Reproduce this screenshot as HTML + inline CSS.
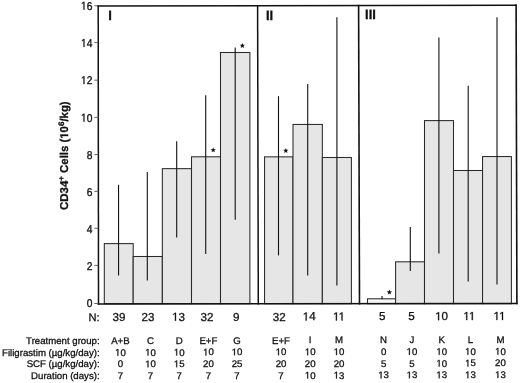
<!DOCTYPE html>
<html><head><meta charset="utf-8"><style>
html,body{margin:0;padding:0;background:#fff;}
body{width:520px;height:383px;overflow:hidden;position:relative;}
svg{position:absolute;left:0;top:0;will-change:transform;}
text{font-family:"Liberation Sans",sans-serif;fill:#111;stroke:#111;stroke-width:0.3px;text-rendering:geometricPrecision;}
.o{fill-opacity:0;stroke-opacity:0;}
.g1{fill:#111;stroke:#111;stroke-width:0.3px;}
</style></head><body>
<svg width="520" height="383" viewBox="0 0 520 383">

<rect x="104.30" y="243.60" width="28.90" height="60.10" fill="#e6e6e6" stroke="#2a2a2a" stroke-width="1.05"/>
<rect x="133.20" y="256.50" width="29.15" height="47.20" fill="#e6e6e6" stroke="#2a2a2a" stroke-width="1.05"/>
<rect x="162.35" y="168.65" width="29.15" height="135.05" fill="#e6e6e6" stroke="#2a2a2a" stroke-width="1.05"/>
<rect x="191.50" y="156.80" width="29.00" height="146.90" fill="#e6e6e6" stroke="#2a2a2a" stroke-width="1.05"/>
<rect x="220.50" y="52.50" width="29.40" height="251.20" fill="#e6e6e6" stroke="#2a2a2a" stroke-width="1.05"/>
<rect x="264.55" y="156.85" width="28.45" height="146.85" fill="#e6e6e6" stroke="#2a2a2a" stroke-width="1.05"/>
<rect x="293.00" y="124.45" width="29.35" height="179.25" fill="#e6e6e6" stroke="#2a2a2a" stroke-width="1.05"/>
<rect x="322.35" y="157.50" width="29.05" height="146.20" fill="#e6e6e6" stroke="#2a2a2a" stroke-width="1.05"/>
<rect x="367.50" y="298.80" width="28.10" height="4.90" fill="#f6f6f6" stroke="#2a2a2a" stroke-width="1.05"/>
<rect x="395.60" y="261.80" width="28.90" height="41.90" fill="#e6e6e6" stroke="#2a2a2a" stroke-width="1.05"/>
<rect x="424.50" y="120.60" width="29.00" height="183.10" fill="#e6e6e6" stroke="#2a2a2a" stroke-width="1.05"/>
<rect x="453.50" y="170.50" width="29.05" height="133.20" fill="#e6e6e6" stroke="#2a2a2a" stroke-width="1.05"/>
<rect x="482.55" y="156.55" width="28.85" height="147.15" fill="#e6e6e6" stroke="#2a2a2a" stroke-width="1.05"/>
<line x1="118.55" y1="184.70" x2="118.55" y2="275.50" stroke="#111" stroke-width="1.1"/>
<line x1="147.30" y1="172.10" x2="147.30" y2="280.50" stroke="#111" stroke-width="1.1"/>
<line x1="176.70" y1="141.30" x2="176.70" y2="237.60" stroke="#111" stroke-width="1.1"/>
<line x1="205.70" y1="95.20" x2="205.70" y2="254.00" stroke="#111" stroke-width="1.1"/>
<line x1="235.20" y1="47.50" x2="235.20" y2="219.70" stroke="#111" stroke-width="1.1"/>
<line x1="278.50" y1="96.20" x2="278.50" y2="255.40" stroke="#111" stroke-width="1.1"/>
<line x1="307.70" y1="83.90" x2="307.70" y2="275.50" stroke="#111" stroke-width="1.1"/>
<line x1="336.90" y1="17.20" x2="336.90" y2="285.60" stroke="#111" stroke-width="1.1"/>
<line x1="382.00" y1="296.00" x2="382.00" y2="299.30" stroke="#111" stroke-width="1.1"/>
<line x1="410.30" y1="226.90" x2="410.30" y2="271.00" stroke="#111" stroke-width="1.1"/>
<line x1="438.90" y1="37.60" x2="438.90" y2="253.50" stroke="#111" stroke-width="1.1"/>
<line x1="468.20" y1="85.80" x2="468.20" y2="281.40" stroke="#111" stroke-width="1.1"/>
<line x1="497.00" y1="17.30" x2="497.00" y2="284.40" stroke="#111" stroke-width="1.1"/>
<line x1="98.2" y1="5.25" x2="98.5" y2="304.75" stroke="#111" stroke-width="1.5"/>
<line x1="257.6" y1="4.98" x2="258.3" y2="304.52" stroke="#111" stroke-width="1.5"/>
<line x1="358.6" y1="4.81" x2="359.5" y2="304.38" stroke="#111" stroke-width="1.6"/>
<line x1="516.1" y1="4.55" x2="516.9" y2="304.15" stroke="#111" stroke-width="1.6"/>
<line x1="97.45" y1="6.0" x2="516.9" y2="5.3" stroke="#111" stroke-width="1.5"/>
<line x1="97.7" y1="304.0" x2="517.7" y2="303.4" stroke="#111" stroke-width="1.5"/>
<line x1="94.3" y1="5.85" x2="98.3" y2="5.85" stroke="#555" stroke-width="0.9"/>
<text transform="translate(92.40,9.65) scale(1,1.1)" font-size="10.3" text-anchor="end"><tspan class="o">1</tspan>6</text>
<line x1="94.3" y1="42.60" x2="98.3" y2="42.60" stroke="#555" stroke-width="0.9"/>
<text transform="translate(92.40,46.90) scale(1,1.1)" font-size="10.3" text-anchor="end"><tspan class="o">1</tspan>4</text>
<line x1="94.3" y1="80.20" x2="98.3" y2="80.20" stroke="#555" stroke-width="0.9"/>
<text transform="translate(92.40,84.10) scale(1,1.1)" font-size="10.3" text-anchor="end"><tspan class="o">1</tspan>2</text>
<line x1="94.3" y1="117.35" x2="98.3" y2="117.35" stroke="#555" stroke-width="0.9"/>
<text transform="translate(92.40,121.65) scale(1,1.1)" font-size="10.3" text-anchor="end"><tspan class="o">1</tspan>0</text>
<line x1="94.3" y1="154.56" x2="98.3" y2="154.56" stroke="#555" stroke-width="0.9"/>
<text transform="translate(92.40,158.86) scale(1,1.1)" font-size="10.3" text-anchor="end">8</text>
<line x1="94.3" y1="191.40" x2="98.3" y2="191.40" stroke="#555" stroke-width="0.9"/>
<text transform="translate(92.40,195.70) scale(1,1.1)" font-size="10.3" text-anchor="end">6</text>
<line x1="94.3" y1="228.25" x2="98.3" y2="228.25" stroke="#555" stroke-width="0.9"/>
<text transform="translate(92.40,232.55) scale(1,1.1)" font-size="10.3" text-anchor="end">4</text>
<line x1="94.3" y1="265.40" x2="98.3" y2="265.40" stroke="#555" stroke-width="0.9"/>
<text transform="translate(92.40,269.70) scale(1,1.1)" font-size="10.3" text-anchor="end">2</text>
<line x1="94.3" y1="303.50" x2="98.3" y2="303.50" stroke="#555" stroke-width="0.9"/>
<text transform="translate(92.40,307.00) scale(1,1.1)" font-size="10.3" text-anchor="end">0</text>
<polygon points="213.20,147.30 213.91,149.13 215.86,149.23 214.34,150.47 214.85,152.37 213.20,151.30 211.55,152.37 212.06,150.47 210.54,149.23 212.49,149.13" fill="#111"/>
<polygon points="242.35,42.90 243.06,44.73 245.01,44.83 243.49,46.07 244.00,47.97 242.35,46.90 240.70,47.97 241.21,46.07 239.69,44.83 241.64,44.73" fill="#111"/>
<polygon points="285.80,147.90 286.51,149.73 288.46,149.83 286.94,151.07 287.45,152.97 285.80,151.90 284.15,152.97 284.66,151.07 283.14,149.83 285.09,149.73" fill="#111"/>
<polygon points="389.40,289.50 390.11,291.33 392.06,291.43 390.54,292.67 391.05,294.57 389.40,293.50 387.75,294.57 388.26,292.67 386.74,291.43 388.69,291.33" fill="#111"/>
<text transform="translate(108.25,19.80) scale(1,1.04)" font-size="13" font-weight="bold">I</text>
<text transform="translate(265.90,19.80) scale(1,1.04)" font-size="13" font-weight="bold">II</text>
<text transform="translate(365.10,19.10) scale(1,1.04)" font-size="13" font-weight="bold">III</text>
<text transform="translate(68.1,155.6) rotate(-90)" font-size="11.4" font-weight="bold" text-anchor="middle">CD34<tspan dy="-4" font-size="8">+</tspan><tspan dy="4"> Cells (<tspan class="o">1</tspan>0</tspan><tspan dy="-4" font-size="8">6</tspan><tspan dy="4">/kg)</tspan></text>
<text x="99.70" y="321.00" font-size="11.1" text-anchor="end">N:</text>
<text x="118.90" y="320.98" font-size="11.6" text-anchor="middle">39</text>
<text x="148.00" y="320.90" font-size="11.6" text-anchor="middle">23</text>
<text x="178.50" y="320.82" font-size="11.6" text-anchor="middle"><tspan class="o">1</tspan>3</text>
<text x="206.90" y="320.75" font-size="11.6" text-anchor="middle">32</text>
<text x="236.20" y="320.68" font-size="11.6" text-anchor="middle">9</text>
<text x="279.20" y="320.57" font-size="11.6" text-anchor="middle">32</text>
<text x="309.20" y="320.49" font-size="11.6" text-anchor="middle"><tspan class="o">1</tspan>4</text>
<text x="339.00" y="320.41" font-size="11.6" text-anchor="middle"><tspan class="o">1</tspan><tspan class="o">1</tspan></text>
<text x="382.30" y="320.30" font-size="11.6" text-anchor="middle">5</text>
<text x="411.40" y="320.23" font-size="11.6" text-anchor="middle">5</text>
<text x="441.60" y="320.15" font-size="11.6" text-anchor="middle"><tspan class="o">1</tspan>0</text>
<text x="469.30" y="320.08" font-size="11.6" text-anchor="middle"><tspan class="o">1</tspan><tspan class="o">1</tspan></text>
<text x="499.50" y="320.00" font-size="11.6" text-anchor="middle"><tspan class="o">1</tspan><tspan class="o">1</tspan></text>
<text x="99.60" y="344.00" font-size="9.65" text-anchor="end">Treatment group:</text>
<text x="120.40" y="343.97" font-size="9.65" text-anchor="middle">A+B</text>
<text x="150.50" y="343.90" font-size="9.65" text-anchor="middle">C</text>
<text x="179.20" y="343.82" font-size="9.65" text-anchor="middle">D</text>
<text x="208.40" y="343.75" font-size="9.65" text-anchor="middle">E+F</text>
<text x="237.00" y="343.67" font-size="9.65" text-anchor="middle">G</text>
<text x="281.00" y="343.56" font-size="9.65" text-anchor="middle">E+F</text>
<text x="310.20" y="343.49" font-size="9.65" text-anchor="middle">I</text>
<text x="339.00" y="343.41" font-size="9.65" text-anchor="middle">M</text>
<text x="383.60" y="343.30" font-size="9.65" text-anchor="middle">N</text>
<text x="411.90" y="343.23" font-size="9.65" text-anchor="middle">J</text>
<text x="441.70" y="343.15" font-size="9.65" text-anchor="middle">K</text>
<text x="470.40" y="343.08" font-size="9.65" text-anchor="middle">L</text>
<text x="500.40" y="343.00" font-size="9.65" text-anchor="middle">M</text>
<text x="99.60" y="355.70" font-size="9.65" text-anchor="end">Filigrastim (µg/kg/day):</text>
<text x="120.40" y="355.67" font-size="9.65" text-anchor="middle"><tspan class="o">1</tspan>0</text>
<text x="150.50" y="355.60" font-size="9.65" text-anchor="middle"><tspan class="o">1</tspan>0</text>
<text x="179.20" y="355.52" font-size="9.65" text-anchor="middle"><tspan class="o">1</tspan>0</text>
<text x="208.40" y="355.45" font-size="9.65" text-anchor="middle"><tspan class="o">1</tspan>0</text>
<text x="237.00" y="355.37" font-size="9.65" text-anchor="middle"><tspan class="o">1</tspan>0</text>
<text x="281.00" y="355.26" font-size="9.65" text-anchor="middle"><tspan class="o">1</tspan>0</text>
<text x="310.20" y="355.19" font-size="9.65" text-anchor="middle"><tspan class="o">1</tspan>0</text>
<text x="339.00" y="355.11" font-size="9.65" text-anchor="middle"><tspan class="o">1</tspan>0</text>
<text x="383.60" y="355.00" font-size="9.65" text-anchor="middle">0</text>
<text x="411.90" y="354.93" font-size="9.65" text-anchor="middle"><tspan class="o">1</tspan>0</text>
<text x="441.70" y="354.85" font-size="9.65" text-anchor="middle"><tspan class="o">1</tspan>0</text>
<text x="470.40" y="354.78" font-size="9.65" text-anchor="middle"><tspan class="o">1</tspan>0</text>
<text x="500.40" y="354.70" font-size="9.65" text-anchor="middle"><tspan class="o">1</tspan>0</text>
<text x="99.60" y="367.40" font-size="9.65" text-anchor="end">SCF (µg/kg/day):</text>
<text x="120.40" y="367.37" font-size="9.65" text-anchor="middle">0</text>
<text x="150.50" y="367.30" font-size="9.65" text-anchor="middle"><tspan class="o">1</tspan>0</text>
<text x="179.20" y="367.22" font-size="9.65" text-anchor="middle"><tspan class="o">1</tspan>5</text>
<text x="208.40" y="367.15" font-size="9.65" text-anchor="middle">20</text>
<text x="237.00" y="367.07" font-size="9.65" text-anchor="middle">25</text>
<text x="281.00" y="366.96" font-size="9.65" text-anchor="middle">20</text>
<text x="310.20" y="366.89" font-size="9.65" text-anchor="middle">20</text>
<text x="339.00" y="366.81" font-size="9.65" text-anchor="middle">20</text>
<text x="383.60" y="366.70" font-size="9.65" text-anchor="middle">5</text>
<text x="411.90" y="366.63" font-size="9.65" text-anchor="middle">5</text>
<text x="441.70" y="366.55" font-size="9.65" text-anchor="middle"><tspan class="o">1</tspan>0</text>
<text x="470.40" y="366.48" font-size="9.65" text-anchor="middle"><tspan class="o">1</tspan>5</text>
<text x="500.40" y="366.40" font-size="9.65" text-anchor="middle">20</text>
<text x="99.60" y="379.10" font-size="9.65" text-anchor="end">Duration (days):</text>
<text x="120.40" y="379.07" font-size="9.65" text-anchor="middle">7</text>
<text x="150.50" y="379.00" font-size="9.65" text-anchor="middle">7</text>
<text x="179.20" y="378.92" font-size="9.65" text-anchor="middle">7</text>
<text x="208.40" y="378.85" font-size="9.65" text-anchor="middle">7</text>
<text x="237.00" y="378.77" font-size="9.65" text-anchor="middle">7</text>
<text x="281.00" y="378.66" font-size="9.65" text-anchor="middle">7</text>
<text x="310.20" y="378.59" font-size="9.65" text-anchor="middle"><tspan class="o">1</tspan>0</text>
<text x="339.00" y="378.51" font-size="9.65" text-anchor="middle"><tspan class="o">1</tspan>3</text>
<text x="383.60" y="378.40" font-size="9.65" text-anchor="middle"><tspan class="o">1</tspan>3</text>
<text x="411.90" y="378.33" font-size="9.65" text-anchor="middle"><tspan class="o">1</tspan>3</text>
<text x="441.70" y="378.25" font-size="9.65" text-anchor="middle"><tspan class="o">1</tspan>3</text>
<text x="470.40" y="378.18" font-size="9.65" text-anchor="middle"><tspan class="o">1</tspan>3</text>
<text x="500.40" y="378.10" font-size="9.65" text-anchor="middle"><tspan class="o">1</tspan>3</text>
<path class="g1" vector-effect="non-scaling-stroke" transform="matrix(0.00503,0.00000,0.00000,-0.00553,80.931,9.650)" d="M515,0L515,1237L197,1010L197,1180L530,1409L696,1409L696,0Z"/>
<path class="g1" vector-effect="non-scaling-stroke" transform="matrix(0.00503,0.00000,0.00000,-0.00553,80.931,46.900)" d="M515,0L515,1237L197,1010L197,1180L530,1409L696,1409L696,0Z"/>
<path class="g1" vector-effect="non-scaling-stroke" transform="matrix(0.00503,0.00000,0.00000,-0.00553,80.931,84.100)" d="M515,0L515,1237L197,1010L197,1180L530,1409L696,1409L696,0Z"/>
<path class="g1" vector-effect="non-scaling-stroke" transform="matrix(0.00503,0.00000,0.00000,-0.00553,80.931,121.650)" d="M515,0L515,1237L197,1010L197,1180L530,1409L696,1409L696,0Z"/>
<path class="g1" vector-effect="non-scaling-stroke" transform="matrix(0.00000,-0.00557,-0.00557,0.00000,68.100,138.725)" d="M478,0L478,1170L140,959L140,1180L493,1409L759,1409L759,0Z"/>
<path class="g1" vector-effect="non-scaling-stroke" transform="matrix(0.00566,0.00000,0.00000,-0.00566,172.047,320.820)" d="M515,0L515,1237L197,1010L197,1180L530,1409L696,1409L696,0Z"/>
<path class="g1" vector-effect="non-scaling-stroke" transform="matrix(0.00566,0.00000,0.00000,-0.00566,302.747,320.490)" d="M515,0L515,1237L197,1010L197,1180L530,1409L696,1409L696,0Z"/>
<path class="g1" vector-effect="non-scaling-stroke" transform="matrix(0.00566,0.00000,0.00000,-0.00566,332.977,320.410)" d="M515,0L515,1237L197,1010L197,1180L530,1409L696,1409L696,0Z"/>
<path class="g1" vector-effect="non-scaling-stroke" transform="matrix(0.00566,0.00000,0.00000,-0.00566,338.570,320.410)" d="M515,0L515,1237L197,1010L197,1180L530,1409L696,1409L696,0Z"/>
<path class="g1" vector-effect="non-scaling-stroke" transform="matrix(0.00566,0.00000,0.00000,-0.00566,435.147,320.150)" d="M515,0L515,1237L197,1010L197,1180L530,1409L696,1409L696,0Z"/>
<path class="g1" vector-effect="non-scaling-stroke" transform="matrix(0.00566,0.00000,0.00000,-0.00566,463.277,320.080)" d="M515,0L515,1237L197,1010L197,1180L530,1409L696,1409L696,0Z"/>
<path class="g1" vector-effect="non-scaling-stroke" transform="matrix(0.00566,0.00000,0.00000,-0.00566,468.870,320.080)" d="M515,0L515,1237L197,1010L197,1180L530,1409L696,1409L696,0Z"/>
<path class="g1" vector-effect="non-scaling-stroke" transform="matrix(0.00566,0.00000,0.00000,-0.00566,493.477,320.000)" d="M515,0L515,1237L197,1010L197,1180L530,1409L696,1409L696,0Z"/>
<path class="g1" vector-effect="non-scaling-stroke" transform="matrix(0.00566,0.00000,0.00000,-0.00566,499.070,320.000)" d="M515,0L515,1237L197,1010L197,1180L530,1409L696,1409L696,0Z"/>
<path class="g1" vector-effect="non-scaling-stroke" transform="matrix(0.00471,0.00000,0.00000,-0.00471,115.041,355.670)" d="M515,0L515,1237L197,1010L197,1180L530,1409L696,1409L696,0Z"/>
<path class="g1" vector-effect="non-scaling-stroke" transform="matrix(0.00471,0.00000,0.00000,-0.00471,145.141,355.600)" d="M515,0L515,1237L197,1010L197,1180L530,1409L696,1409L696,0Z"/>
<path class="g1" vector-effect="non-scaling-stroke" transform="matrix(0.00471,0.00000,0.00000,-0.00471,173.841,355.520)" d="M515,0L515,1237L197,1010L197,1180L530,1409L696,1409L696,0Z"/>
<path class="g1" vector-effect="non-scaling-stroke" transform="matrix(0.00471,0.00000,0.00000,-0.00471,203.041,355.450)" d="M515,0L515,1237L197,1010L197,1180L530,1409L696,1409L696,0Z"/>
<path class="g1" vector-effect="non-scaling-stroke" transform="matrix(0.00471,0.00000,0.00000,-0.00471,231.641,355.370)" d="M515,0L515,1237L197,1010L197,1180L530,1409L696,1409L696,0Z"/>
<path class="g1" vector-effect="non-scaling-stroke" transform="matrix(0.00471,0.00000,0.00000,-0.00471,275.641,355.260)" d="M515,0L515,1237L197,1010L197,1180L530,1409L696,1409L696,0Z"/>
<path class="g1" vector-effect="non-scaling-stroke" transform="matrix(0.00471,0.00000,0.00000,-0.00471,304.841,355.190)" d="M515,0L515,1237L197,1010L197,1180L530,1409L696,1409L696,0Z"/>
<path class="g1" vector-effect="non-scaling-stroke" transform="matrix(0.00471,0.00000,0.00000,-0.00471,333.641,355.110)" d="M515,0L515,1237L197,1010L197,1180L530,1409L696,1409L696,0Z"/>
<path class="g1" vector-effect="non-scaling-stroke" transform="matrix(0.00471,0.00000,0.00000,-0.00471,406.541,354.930)" d="M515,0L515,1237L197,1010L197,1180L530,1409L696,1409L696,0Z"/>
<path class="g1" vector-effect="non-scaling-stroke" transform="matrix(0.00471,0.00000,0.00000,-0.00471,436.341,354.850)" d="M515,0L515,1237L197,1010L197,1180L530,1409L696,1409L696,0Z"/>
<path class="g1" vector-effect="non-scaling-stroke" transform="matrix(0.00471,0.00000,0.00000,-0.00471,465.041,354.780)" d="M515,0L515,1237L197,1010L197,1180L530,1409L696,1409L696,0Z"/>
<path class="g1" vector-effect="non-scaling-stroke" transform="matrix(0.00471,0.00000,0.00000,-0.00471,495.041,354.700)" d="M515,0L515,1237L197,1010L197,1180L530,1409L696,1409L696,0Z"/>
<path class="g1" vector-effect="non-scaling-stroke" transform="matrix(0.00471,0.00000,0.00000,-0.00471,145.141,367.300)" d="M515,0L515,1237L197,1010L197,1180L530,1409L696,1409L696,0Z"/>
<path class="g1" vector-effect="non-scaling-stroke" transform="matrix(0.00471,0.00000,0.00000,-0.00471,173.841,367.220)" d="M515,0L515,1237L197,1010L197,1180L530,1409L696,1409L696,0Z"/>
<path class="g1" vector-effect="non-scaling-stroke" transform="matrix(0.00471,0.00000,0.00000,-0.00471,436.341,366.550)" d="M515,0L515,1237L197,1010L197,1180L530,1409L696,1409L696,0Z"/>
<path class="g1" vector-effect="non-scaling-stroke" transform="matrix(0.00471,0.00000,0.00000,-0.00471,465.041,366.480)" d="M515,0L515,1237L197,1010L197,1180L530,1409L696,1409L696,0Z"/>
<path class="g1" vector-effect="non-scaling-stroke" transform="matrix(0.00471,0.00000,0.00000,-0.00471,304.841,378.590)" d="M515,0L515,1237L197,1010L197,1180L530,1409L696,1409L696,0Z"/>
<path class="g1" vector-effect="non-scaling-stroke" transform="matrix(0.00471,0.00000,0.00000,-0.00471,333.641,378.510)" d="M515,0L515,1237L197,1010L197,1180L530,1409L696,1409L696,0Z"/>
<path class="g1" vector-effect="non-scaling-stroke" transform="matrix(0.00471,0.00000,0.00000,-0.00471,378.241,378.400)" d="M515,0L515,1237L197,1010L197,1180L530,1409L696,1409L696,0Z"/>
<path class="g1" vector-effect="non-scaling-stroke" transform="matrix(0.00471,0.00000,0.00000,-0.00471,406.541,378.330)" d="M515,0L515,1237L197,1010L197,1180L530,1409L696,1409L696,0Z"/>
<path class="g1" vector-effect="non-scaling-stroke" transform="matrix(0.00471,0.00000,0.00000,-0.00471,436.341,378.250)" d="M515,0L515,1237L197,1010L197,1180L530,1409L696,1409L696,0Z"/>
<path class="g1" vector-effect="non-scaling-stroke" transform="matrix(0.00471,0.00000,0.00000,-0.00471,465.041,378.180)" d="M515,0L515,1237L197,1010L197,1180L530,1409L696,1409L696,0Z"/>
<path class="g1" vector-effect="non-scaling-stroke" transform="matrix(0.00471,0.00000,0.00000,-0.00471,495.041,378.100)" d="M515,0L515,1237L197,1010L197,1180L530,1409L696,1409L696,0Z"/>
</svg></body></html>
